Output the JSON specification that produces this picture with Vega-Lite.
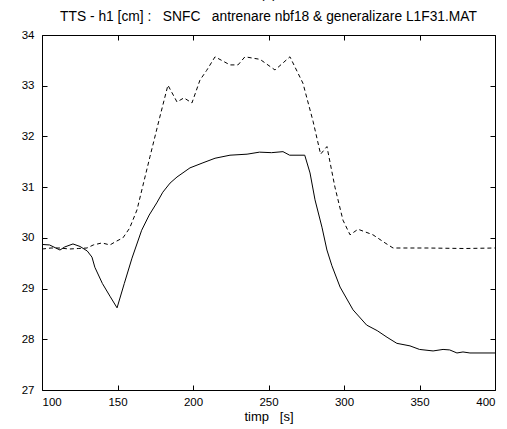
{
  "$schema": "https://vega.github.io/schema/vega-lite/v6.json",
  "width": 453,
  "height": 355,
  "autosize": {"type": "none"},
  "padding": {"left": 42, "top": 35, "right": 12, "bottom": 39},
  "background": "white",
  "title": {"text": ["(a)", "TTS - h1 [cm] :\u00a0\u00a0\u00a0SNFC\u00a0\u00a0\u00a0antrenare nbf18 & generalizare L1F31.MAT"], "lineHeight": 23, "font": "Liberation Sans", "fontSize": 13.8, "fontWeight": "normal", "color": "black", "offset": 5, "anchor": "middle"},
  "config": {
    "view": {"stroke": "black", "strokeWidth": 1},
    "axis": {"domain": false, "ticks": false, "labelColor": "black", "labelFont": "Liberation Sans", "labelFontSize": 11.5, "titleFont": "Liberation Sans", "titleFontSize": 13, "titleFontWeight": "normal", "titleColor": "black", "labelPadding": 6, "grid": true, "gridColor": "black", "gridOpacity": 1, "gridWidth": 1},
    "axisX": {"gridDash": [5, 345, 5, 100]},
    "axisY": {"gridDash": [5, 443, 5, 100]}
  },
  "datasets": {
    "solid": [
      {"t": 100, "h": 29.87}, {"t": 105, "h": 29.86}, {"t": 111.9, "h": 29.76}, {"t": 115, "h": 29.82}, {"t": 120.5, "h": 29.88}, {"t": 125.2, "h": 29.83}, {"t": 130, "h": 29.74},
      {"t": 133.1, "h": 29.62}, {"t": 135, "h": 29.42}, {"t": 140, "h": 29.1}, {"t": 145, "h": 28.85}, {"t": 149.7, "h": 28.62},
      {"t": 154.5, "h": 29.1}, {"t": 159.6, "h": 29.6}, {"t": 166, "h": 30.15}, {"t": 171, "h": 30.45}, {"t": 176, "h": 30.69}, {"t": 180, "h": 30.9}, {"t": 184.8, "h": 31.08},
      {"t": 189.4, "h": 31.2}, {"t": 198, "h": 31.38}, {"t": 206.6, "h": 31.48}, {"t": 214.6, "h": 31.57}, {"t": 224.5, "h": 31.63}, {"t": 235.8, "h": 31.65}, {"t": 244, "h": 31.69}, {"t": 252, "h": 31.68}, {"t": 259.6, "h": 31.7}, {"t": 264, "h": 31.63}, {"t": 274, "h": 31.63},
      {"t": 277.5, "h": 31.28}, {"t": 280.8, "h": 30.75}, {"t": 285.4, "h": 30.21}, {"t": 288.7, "h": 29.76}, {"t": 292, "h": 29.45}, {"t": 297.4, "h": 29.03}, {"t": 306, "h": 28.58}, {"t": 315, "h": 28.28}, {"t": 322, "h": 28.17}, {"t": 328.5, "h": 28.04}, {"t": 335, "h": 27.92}, {"t": 343.7, "h": 27.87}, {"t": 350, "h": 27.8}, {"t": 359, "h": 27.77}, {"t": 365.6, "h": 27.8}, {"t": 370, "h": 27.79}, {"t": 374.8, "h": 27.73}, {"t": 378.8, "h": 27.75}, {"t": 383.4, "h": 27.73}, {"t": 400, "h": 27.73}
    ],
    "dashed": [
      {"t": 100, "h": 29.78}, {"t": 106, "h": 29.8}, {"t": 111.9, "h": 29.8}, {"t": 118, "h": 29.78}, {"t": 124, "h": 29.79}, {"t": 129.8, "h": 29.8}, {"t": 134, "h": 29.86}, {"t": 139.7, "h": 29.9}, {"t": 145, "h": 29.86}, {"t": 149, "h": 29.93}, {"t": 153.6, "h": 30.0},
      {"t": 158, "h": 30.19}, {"t": 162.9, "h": 30.55}, {"t": 166.9, "h": 31.04}, {"t": 171.5, "h": 31.6}, {"t": 178, "h": 32.38}, {"t": 183.4, "h": 33.01}, {"t": 189.4, "h": 32.68}, {"t": 194, "h": 32.76}, {"t": 199.3, "h": 32.66}, {"t": 204.6, "h": 33.11}, {"t": 209, "h": 33.3}, {"t": 214.6, "h": 33.57},
      {"t": 224.5, "h": 33.41}, {"t": 229.8, "h": 33.41}, {"t": 234.4, "h": 33.57}, {"t": 244.4, "h": 33.52}, {"t": 254.3, "h": 33.31}, {"t": 264.2, "h": 33.57}, {"t": 272.8, "h": 33.05}, {"t": 279.5, "h": 32.3}, {"t": 284.5, "h": 31.65}, {"t": 288.7, "h": 31.8},
      {"t": 294, "h": 31.0}, {"t": 299.3, "h": 30.35}, {"t": 304, "h": 30.06}, {"t": 309.3, "h": 30.17}, {"t": 319.2, "h": 30.06}, {"t": 327.2, "h": 29.9}, {"t": 332.5, "h": 29.8}, {"t": 355, "h": 29.8}, {"t": 380, "h": 29.79}, {"t": 400, "h": 29.8}
    ]
  },
  "layer": [
    {
      "data": {"name": "solid"},
      "mark": {"type": "line", "color": "black", "strokeWidth": 1},
      "encoding": {
        "x": {"field": "t", "type": "quantitative", "scale": {"domain": [100, 400], "nice": false, "zero": false}, "axis": {"values": [100, 150, 200, 250, 300, 350, 400], "title": "timp\u00a0\u00a0\u00a0[s]", "titlePadding": 3}},
        "y": {"field": "h", "type": "quantitative", "scale": {"domain": [27, 34], "nice": false, "zero": false}, "axis": {"values": [27, 28, 29, 30, 31, 32, 33, 34], "title": null, "labelPadding": 8}}
      }
    },
    {
      "data": {"name": "dashed"},
      "mark": {"type": "line", "color": "black", "strokeWidth": 1, "strokeDash": [4, 3]},
      "encoding": {
        "x": {"field": "t", "type": "quantitative"},
        "y": {"field": "h", "type": "quantitative"}
      }
    }
  ]
}
